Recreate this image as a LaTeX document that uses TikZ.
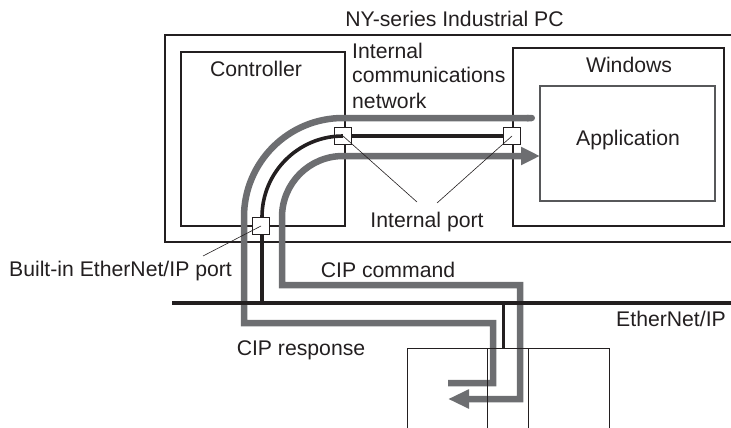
\documentclass[tikz,border=0pt]{standalone}
\usepackage{fontspec}
\setmainfont{Liberation Sans}
\usetikzlibrary{arrows.meta}
\definecolor{flow}{HTML}{6D6E71}
\definecolor{ink}{HTML}{231F20}
\begin{document}
\begin{tikzpicture}[x=1pt,y=-1pt,
  lbl/.style={font=\fontsize{21.2}{25}\selectfont, text=ink, inner sep=0pt},
  frame/.style={draw=ink, line width=2.6pt},
  appbox/.style={draw=flow!80!black, line width=1.3pt},
  flowline/.style={draw=flow, line width=6.5pt, line join=miter},
  port/.style={draw=ink, fill=white, line width=1.1pt, minimum size=17pt, inner sep=0pt},
  leader/.style={draw=ink, line width=0.6pt},
  wire/.style={draw=ink, line width=3.6pt},
  thinline/.style={draw=ink, line width=0.9pt}]
\useasboundingbox (0,0) rectangle (731,428);

% outer frame (right side beyond the picture)
\coordinate (pc-tr) at (731,35);
\coordinate (pc-br) at (731,242);
\draw[frame] (pc-tr) -- (165,35) -- (165,242) -- (pc-br);
\node[lbl, anchor=base] (pclabel) at (454.5,27) {NY-series Industrial PC};

% controller
\node[frame, minimum width=164pt, minimum height=174pt, inner sep=0pt] (ctrl) at (263,139) {};
\node[lbl, anchor=base] (ctrllabel) at (256,77) {Controller};

% windows
\node[frame, minimum width=211pt, minimum height=178pt, inner sep=0pt] (win) at (618.5,137) {};
\node[lbl, anchor=base] (winlabel) at (629,73) {Windows};
\node[appbox, minimum width=175pt, minimum height=115pt, inner sep=0pt] (app) at (627.5,143.5) {};
\node[lbl, anchor=base] (applabel) at (628,145) {Application};

\node[lbl, anchor=base west, align=left] (netlabel) at (352,108) {Internal\\communications\\network};

% flows
\draw[flowline, -{Round Cap[]}] (448,383) -- (493,383) -- (493,323) -- (244,323) -- (244,217)
  .. controls (244,162.3) and (288.3,118) .. (343,118) -- (535,118);
\draw[flowline, {Triangle[length=21pt,width=18pt]}-{Triangle[length=19pt,width=17pt]}]
  (448,399) -- (520,399) -- (520,285) -- (282,285) -- (282,217)
  .. controls (282,183.3) and (309.3,156) .. (343,156) -- (540,156);

% ports
\node[port] (p1) at (343,136) {};
\node[port] (p2) at (512,136) {};

% network wires
\coordinate (eth-l) at (172,303);
\coordinate (eth-r) at (731,303);
\coordinate (drop) at (262,303);
\draw[wire] (p1.center) .. controls (298.3,136) and (262,172.3) .. (262,217) -- (drop);
\draw[wire] (p1) -- (p2);
\draw[wire] (eth-l) -- (eth-r);
\node[port] (p3) at (261,226) {};

% device
\coordinate (dev-a) at (503,303);
\coordinate (dev-b) at (503,348);
\draw[wire, line width=3pt] (dev-a) -- (dev-b);
\draw[thinline] (407,432) -- (407,348) -- (609,348) -- (609,432);
\draw[thinline] (487,348) -- (487,432);
\draw[thinline] (528,348) -- (528,432);

% leaders
\coordinate (l1) at (417,202);
\coordinate (l2) at (437,203);
\coordinate (l3) at (203,256);
\draw[leader] (p1.center) -- (l1);
\draw[leader] (p2.center) -- (l2);
\draw[leader] (p3.center) -- (l3);

\node[lbl, anchor=base] (iplabel) at (427,227) {Internal port};
\node[lbl, anchor=base] (bilabel) at (120.5,276) {Built-in EtherNet/IP port};
\node[lbl, anchor=base] (cmdlabel) at (388,277) {CIP command};
\node[lbl, anchor=base] (resplabel) at (301,355) {CIP response};
\node[lbl, anchor=base] (ethlabel) at (671,326) {EtherNet/IP};
\end{tikzpicture}
\end{document}
